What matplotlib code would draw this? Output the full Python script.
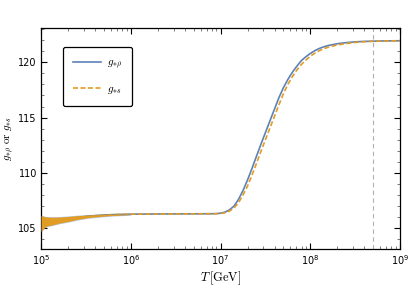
import numpy as np
import matplotlib
matplotlib.use("Agg")
import matplotlib.pyplot as plt
from matplotlib.ticker import LogLocator, MultipleLocator

plt.rcParams["mathtext.fontset"] = "cm"

# log10(T) sample points
logT = [5.0, 5.1, 5.2, 5.3, 5.4, 5.5, 5.6, 5.7, 5.8, 6.0, 6.3, 6.6,
        6.90, 6.95, 7.00, 7.05, 7.10, 7.15, 7.20, 7.25, 7.30, 7.35, 7.40, 7.45,
        7.50, 7.55, 7.60, 7.65, 7.70, 7.75, 7.80, 7.85, 7.90, 7.95, 8.00, 8.05,
        8.10, 8.15, 8.20, 8.30, 8.40, 8.50, 8.60, 8.70, 8.85, 9.00]
g_rho = [105.5, 105.65, 105.75, 105.85, 105.95, 106.05, 106.12, 106.18, 106.22, 106.26, 106.28, 106.29,
         106.30, 106.31, 106.35, 106.45, 106.65, 107.0, 107.6, 108.4, 109.35, 110.4, 111.5, 112.6,
         113.65, 114.7, 115.75, 116.8, 117.7, 118.45, 119.1, 119.65, 120.15, 120.5, 120.8, 121.05,
         121.25, 121.4, 121.52, 121.68, 121.78, 121.85, 121.89, 121.91, 121.94, 121.95]
g_s = [105.5, 105.65, 105.75, 105.85, 105.95, 106.05, 106.12, 106.18, 106.22, 106.26, 106.28, 106.29,
       106.30, 106.30, 106.33, 106.39, 106.55, 106.82, 107.3, 108.0, 108.8, 109.8, 110.85, 111.95,
       113.0, 114.05, 115.1, 116.15, 117.15, 118.0, 118.7, 119.3, 119.8, 120.2, 120.55, 120.82,
       121.05, 121.22, 121.37, 121.57, 121.7, 121.8, 121.86, 121.9, 121.93, 121.95]

# oscillating band at low T
band_logT = [5.0, 5.03, 5.07, 5.13, 5.2, 5.3, 5.4, 5.52, 5.65, 5.8, 5.9, 6.0]
band_lo = [104.7, 105.0, 105.2, 105.3, 105.45, 105.6, 105.78, 105.95, 106.05, 106.15, 106.19, 106.23]
band_hi = [106.15, 106.05, 106.0, 105.98, 106.0, 106.05, 106.12, 106.18, 106.22, 106.26, 106.27, 106.28]

T_mark = 5e8

blue = "#5e81b5"
orange = "#e19c24"

fig = plt.figure(figsize=(4.15, 2.89), dpi=100)
ax = fig.add_axes([0.099, 0.138, 0.865, 0.765])

T = 10 ** np.array(logT)
Tb = 10 ** np.array(band_logT)
ax.plot(T, g_rho, color=blue, lw=1.2, label=r"$g_{*\rho}$")
ax.plot(T, g_s, color=orange, lw=1.2, ls=(0, (3, 1.5)), label=r"$g_{*s}$")
ax.fill_between(Tb, np.array(band_lo) - 0.06, np.array(band_hi) + 0.05, color=blue, lw=0,
                alpha=0.45, zorder=3)
ax.fill_between(Tb, band_lo, band_hi, color=orange, lw=0, zorder=3)
ax.axvline(T_mark, color="#b0b0b0", lw=0.8, ls=(0, (4, 3)))

ax.set_xscale("log")
ax.set_xlim(1e5, 1e9)
ax.set_ylim(103.1, 123.1)
ax.xaxis.set_major_locator(LogLocator(base=10, numticks=10))
ax.xaxis.set_minor_locator(LogLocator(base=10, subs=np.arange(2, 10), numticks=10))
ax.yaxis.set_major_locator(MultipleLocator(5))
ax.yaxis.set_minor_locator(MultipleLocator(1))
ax.tick_params(which="both", direction="in", top=True, right=True, labelsize=7, pad=3)
ax.tick_params(which="major", length=4, width=0.8)
ax.tick_params(which="minor", length=2, width=0.6, color="#666666")
for s in ax.spines.values():
    s.set_linewidth(0.9)

ax.set_xlabel(r"$T\,[\mathrm{GeV}]$", fontsize=9, labelpad=2)
ax.set_ylabel(r"$g_{*\rho}\ \mathrm{or}\ g_{*s}$", fontsize=8, labelpad=2)

leg = ax.legend(loc="upper left", bbox_to_anchor=(0.06, 0.913), fontsize=8, handlelength=2.5,
                handletextpad=0.5, borderpad=0.95, labelspacing=1.1, borderaxespad=0,
                fancybox=True, framealpha=1)
leg.get_frame().set_edgecolor("black")
leg.get_frame().set_linewidth(0.9)

fig.savefig("out.png", dpi=100)
